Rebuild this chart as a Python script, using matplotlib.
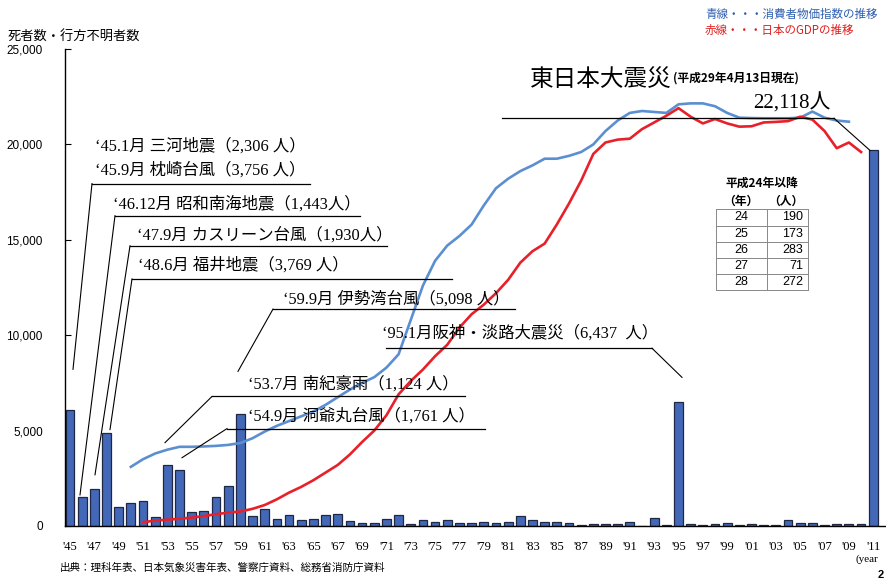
import numpy as np
import matplotlib
matplotlib.use("Agg")
import matplotlib.pyplot as plt
from matplotlib.lines import Line2D
from matplotlib.ticker import FuncFormatter

plt.rcParams['font.family'] = ['Noto Sans CJK JP', 'DejaVu Sans']

# deaths / missing persons per year, 1945-2011
years = list(range(1945, 2012))
deaths = [6062, 1504, 1950, 4897, 975, 1210, 1291, 449, 3212, 2926,
          727, 765, 1515, 2120, 5868, 528, 902, 381, 575, 307,
          367, 578, 607, 259, 183, 163, 350, 587, 85, 324,
          213, 326, 174, 153, 208, 148, 232, 524, 301, 199,
          199, 148, 69, 93, 96, 123, 190, 19, 438, 39,
          6482, 84, 71, 109, 141, 78, 90, 48, 62, 327,
          153, 177, 39, 100, 115, 89, 19690]

# consumer price index trend (blue), drawn on the deaths scale, 1950-2009
cpi_years = list(range(1950, 2010))
cpi = [3100, 3500, 3800, 4000, 4150, 4150, 4170, 4200, 4250, 4350,
       4600, 4950, 5250, 5500, 5750, 6000, 6350, 6750, 7150, 7500,
       7800, 8300, 9000, 10800, 12600, 13900, 14700, 15200, 15800, 16800,
       17700, 18200, 18600, 18900, 19250, 19250, 19400, 19600, 20000, 20700,
       21250, 21650, 21750, 21700, 21650, 22100, 22150, 22150, 22000, 21650,
       21400, 21380, 21370, 21370, 21370, 21400, 21720, 21400, 21250, 21190]

# GDP trend (red), drawn on the deaths scale, 1951-2010
gdp_years = list(range(1951, 2011))
gdp = [200, 280, 330, 380, 440, 520, 620, 700, 760, 900,
       1100, 1400, 1750, 2050, 2400, 2800, 3200, 3750, 4400, 5000,
       5800, 6900, 7600, 8200, 8900, 9500, 10400, 11100, 11600, 12200,
       12900, 13800, 14400, 14800, 15800, 16900, 18100, 19500, 20100, 20250,
       20300, 20800, 21150, 21500, 21900, 21450, 21100, 21330, 21100, 20930,
       20950, 21150, 21180, 21220, 21450, 21300, 20700, 19800, 20100, 19600]

tick_years = list(range(1945, 2012, 2))
tick_labels = ["'%02d" % (y % 100) for y in tick_years]

table_years = ['24', '25', '26', '27', '28']
table_people = [190, 173, 283, 71, 272]

W, H = 886, 579
fig = plt.figure(figsize=(W / 100, H / 100), dpi=100)
ax = fig.add_axes([65 / W, 53 / H, (W - 65) / W, (526 - 49) / H])

ax.bar(years, deaths, width=0.72, color='#4468B8', edgecolor='#1E2844', linewidth=0.9, zorder=2)
ax.plot(cpi_years, cpi, color='#5B8FD1', lw=1.9, zorder=3)
ax.plot(gdp_years, gdp, color='#E8202A', lw=1.9, zorder=3)

x0 = 1945 - 5 / 12.17
ax.set_xlim(x0, x0 + (W - 65) / 12.17)
ax.set_ylim(0, 25000)
for s in ['top', 'right']:
    ax.spines[s].set_visible(False)
ax.spines['left'].set_linewidth(1.0)
ax.spines['bottom'].set_linewidth(1.0)

ax.set_yticks(range(0, 25001, 5000))
ax.yaxis.set_major_formatter(FuncFormatter(lambda v, p: '{:,}'.format(int(v))))
ax.tick_params(axis='y', direction='in', length=4, pad=16, labelsize=8.5)
for t in ax.get_yticklabels():
    t.set_family(['Liberation Sans'])
ax.set_xticks(tick_years)
ax.set_xticklabels(tick_labels, family=['Liberation Serif'], fontsize=9)
ax.tick_params(axis='x', length=0, pad=11)


# pixel helpers for the overlay
def fx(x):
    return x / W


def fy(y):
    return 1 - y / H


def px(x):
    return x0 + (x - 65) / 12.17


def py(y):
    return (526 - y) * 1000 / 19


mixed = ['Liberation Serif', 'Noto Sans CJK JP']

notes = [
    ("‘45.1月 三河地震（2,306 人）", 95, 148),
    ("‘45.9月 枕崎台風（3,756 人）", 95, 172),
    ("‘46.12月 昭和南海地震（1,443人）", 113, 206),
    ("‘47.9月 カスリーン台風（1,930人）", 137, 237),
    ("‘48.6月 福井地震（3,769 人）", 138, 267),
    ("‘59.9月 伊勢湾台風（5,098 人）", 283, 300),
    ("‘95.1月阪神・淡路大震災（6,437  人）", 382, 334),
    ("‘53.7月 南紀豪雨（1,124 人）", 248, 385),
    ("‘54.9月 洞爺丸台風（1,761 人）", 248, 417),
]
for txt, x, y in notes:
    ax.text(px(x), py(y), txt, family=mixed, fontsize=11.8, va='center', ha='left', zorder=4)

# underline + leader: (y, x_left, x_right, end_x, end_y, leader from right?)
leaders = [
    (185, 92, 310, 73, 370, False),
    (217, 115, 360, 80, 495, False),
    (247, 130, 387, 95, 475, False),
    (280, 132, 452, 110, 430, False),
    (310, 273, 515, 238, 372, False),
    (349, 386, 652, 682, 378, True),
    (397, 212, 465, 165, 443, False),
    (429, 227, 485, 182, 458, False),
    (120, 502, 834, 870, 152, True),
]
for y, xa, xb, ex, ey, right in leaders:
    ax.plot([px(xa), px(xb)], [py(y), py(y)], color='black', lw=0.9, zorder=4)
    sx = xb if right else xa
    ax.plot([px(sx), px(ex)], [py(y), py(ey)], color='black', lw=0.8, zorder=4)

# east japan earthquake label
fig.text(fx(530), fy(80), '東日本大震災', fontsize=17, va='center', ha='left')
fig.text(fx(673), fy(78), '(平成29年4月13日現在)', fontsize=8.5, fontweight='bold', va='center', ha='left')
fig.text(fx(830), fy(103), '22,118人', family=mixed, fontsize=15, va='center', ha='right')

# legend text
fig.text(fx(705), fy(14), '青線・・・消費者物価指数の推移', color='#2E5FB0', fontsize=8.3, va='center')
fig.text(fx(705), fy(30), '赤線・・・日本のGDPの推移', color='#E02020', fontsize=8.3, va='center')

# axis title, source, year, page no
fig.text(fx(8), fy(36), '死者数・行方不明者数', fontsize=9.5, va='center')
fig.text(fx(60), fy(568), '出典：理科年表、日本気象災害年表、警察庁資料、総務省消防庁資料', fontsize=7.6, va='center')
fig.text(fx(856), fy(559), '(year', family=['Liberation Serif'], fontsize=8, va='center')
fig.text(fx(884), fy(578), '2', family=['Liberation Sans'], fontsize=8, fontweight='bold', ha='right', va='baseline')

# small table
fig.text(fx(762), fy(183), '平成24年以降', fontsize=8.5, fontweight='bold', ha='center', va='center')
fig.text(fx(741), fy(201), '（年）', fontsize=8.5, fontweight='bold', ha='center', va='center')
fig.text(fx(786), fy(201), '（人）', fontsize=8.5, fontweight='bold', ha='center', va='center')
rows = [209, 226, 242, 258, 274, 290]
tl, tm, tr = 716, 767, 808
line_kw = dict(color='#888888', lw=0.7, transform=fig.transFigure)
for r in rows:
    fig.add_artist(Line2D([fx(tl), fx(tr)], [fy(r), fy(r)], **line_kw))
for c in (tl, tm, tr):
    fig.add_artist(Line2D([fx(c), fx(c)], [fy(rows[0]), fy(rows[-1])], **line_kw))
for i, (yr, n) in enumerate(zip(table_years, table_people)):
    yc = (rows[i] + rows[i + 1]) / 2
    fig.text(fx(741), fy(yc), yr, family=['Liberation Sans'], fontsize=9, ha='center', va='center')
    fig.text(fx(803), fy(yc), str(n), family=['Liberation Sans'], fontsize=9, ha='right', va='center')

fig.savefig('out.png', dpi=100)
